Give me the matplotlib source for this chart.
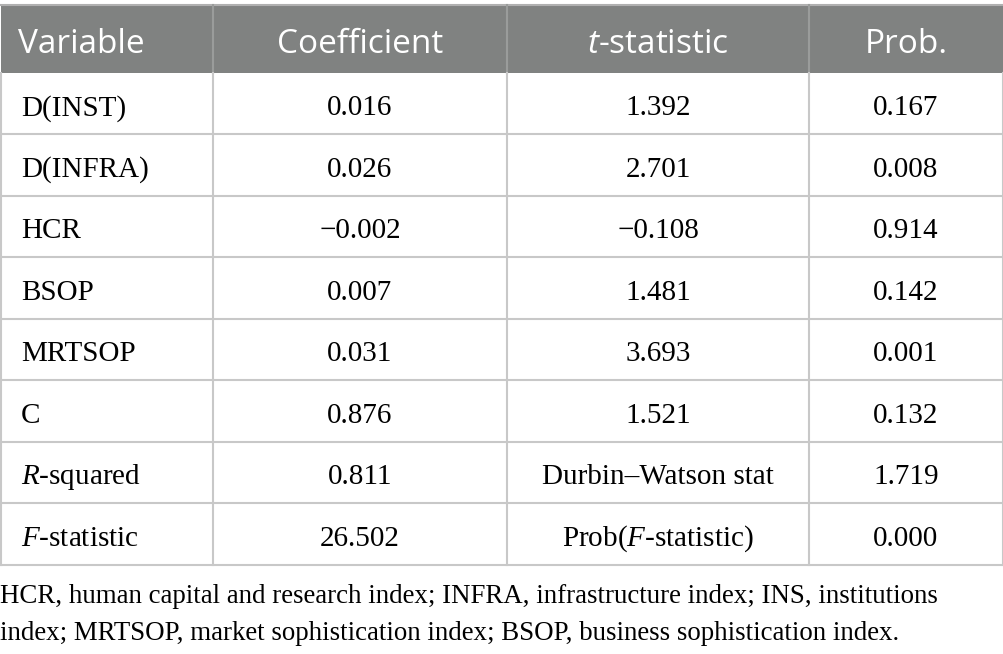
import matplotlib.pyplot as plt
from matplotlib.patches import Rectangle

plt.rcParams['mathtext.fontset'] = 'custom'
plt.rcParams['mathtext.rm'] = 'Liberation Serif'
plt.rcParams['mathtext.it'] = 'Liberation Serif:italic'
plt.rcParams['mathtext.sf'] = 'Open Sans:italic'

# Table content
headers = ['Variable', 'Coefficient', r'$\mathsf{t}$-statistic', 'Prob.']
variables = ['D(INST)', 'D(INFRA)', 'HCR', 'BSOP', 'MRTSOP', 'C',
             r'$\mathit{R}$-squared', r'$\mathit{F}$-statistic']
coefficients = ['0.016', '0.026', '\u22120.002', '0.007', '0.031', '0.876', '0.811', '26.502']
t_stats = ['1.392', '2.701', '\u22120.108', '1.481', '3.693', '1.521',
           'Durbin\u2013Watson stat', r'Prob($\mathit{F}$-statistic)']
probs = ['0.167', '0.008', '0.914', '0.142', '0.001', '0.132', '1.719', '0.000']
footnote = ['HCR, human capital and research index; INFRA, infrastructure index; INS, institutions',
            'index; MRTSOP, market sophistication index; BSOP, business sophistication index.']

# Layout (pixel coordinates)
W, H = 1004, 654
col_edges = [0.75, 213, 507, 809, 1003]
head_top, head_bot = 4.5, 72.5
row_h = 61.5
header_bg = '#808281'
grid_col = '#c8c8c8'

fig = plt.figure(figsize=(W / 100, H / 100), dpi=100)
ax = fig.add_axes([0, 0, 1, 1])
ax.set_xlim(0, W)
ax.set_ylim(H, 0)
ax.axis('off')

# Header
ax.add_patch(Rectangle((col_edges[0], head_top), col_edges[-1] - col_edges[0], head_bot - head_top,
                       facecolor=header_bg, edgecolor='none'))
ax.plot([col_edges[0], col_edges[-1]], [head_top, head_top], color='#b0b0b0', lw=1.5)
for x in col_edges[1:-1]:
    ax.plot([x, x], [head_top, head_bot], color='#9a9c9b', lw=1.5)
for i, h in enumerate(headers):
    if i == 0:
        ax.text(18, 53, h, color='white', fontsize=24, family='Open Sans',
                ha='left', va='baseline')
    else:
        cx = (col_edges[i] + col_edges[i + 1]) / 2
        ax.text(cx, 53, h, color='white', fontsize=24, family='Open Sans',
                ha='center', va='baseline')

# Body
n = len(variables)
table_bot = head_bot + n * row_h
for k in range(1, n + 1):
    y = head_bot + k * row_h
    ax.plot([col_edges[0], col_edges[-1]], [y, y], color=grid_col, lw=1.5)
for x in col_edges:
    ax.plot([x, x], [head_bot, table_bot], color=grid_col, lw=1.5)

for r in range(n):
    y = head_bot + (r + 0.5) * row_h + 12
    ax.text(21, y, variables[r], fontsize=21, family='Liberation Serif', ha='left', va='baseline')
    for c, col in enumerate([coefficients, t_stats, probs], start=1):
        cx = (col_edges[c] + col_edges[c + 1]) / 2
        ax.text(cx, y, col[r], fontsize=21, family='Liberation Serif', ha='center', va='baseline')

# Footnote
for j, line in enumerate(footnote):
    ax.text(0, 603 + j * 37, line, fontsize=19.4, family='Liberation Serif', ha='left', va='baseline')

fig.savefig('out.png', dpi=100)
